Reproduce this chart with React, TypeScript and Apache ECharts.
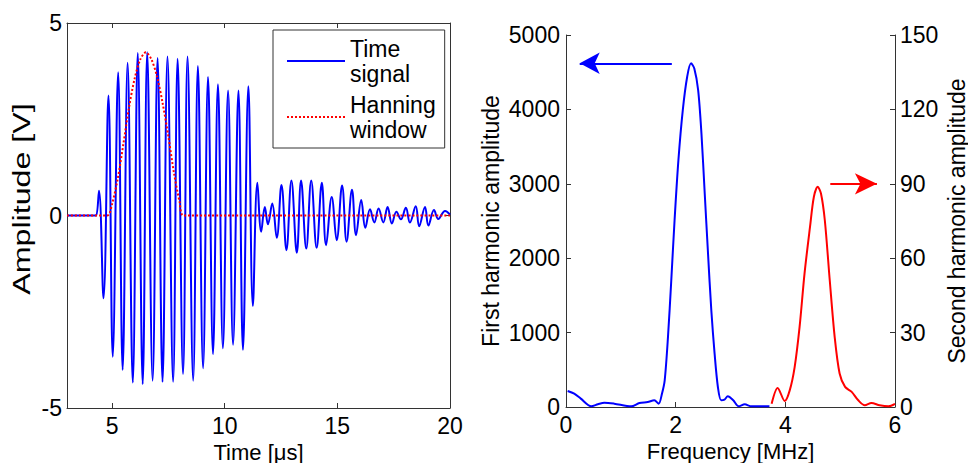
import { useEffect, useRef } from "react";
import * as echarts from "echarts";

const FONT = '"Liberation Sans", Arial, Helvetica, sans-serif';

// ---- left panel ----
const timeTicks = [5, 10, 15, 20];
const timeTopTicks = [5, 10, 15];
const timeMin = 3;
const timeMax = 20;
const ampMin = -5;
const ampMax = 5;
const ampStep = 5;
const ampLabel = "Amplitude [V]";

// [time µs, amplitude V] read at the extrema of the trace
const timeSignal: [number, number][] = [
  [3, 0], [4.25, 0], [4.3, 0], [4.42, 0.64], [4.62, -2.15], [4.84, 3.12], [5.03, -3.67],
  [5.27, 3.72], [5.47, -4.01], [5.69, 3.97], [5.92, -4.34], [6.14, 4.22], [6.36, -4.38],
  [6.56, 4.24], [6.8, -4.29], [7.02, 4.09], [7.24, -4.32], [7.46, 4.13], [7.71, -4.32],
  [7.91, 4.07], [8.15, -4.12], [8.35, 4.13], [8.6, -4.29], [8.81, 3.88], [9.04, -3.97],
  [9.26, 3.6], [9.48, -3.6], [9.7, 3.41], [9.92, -3.45], [10.15, 3.25], [10.37, -3.36],
  [10.61, 3.25], [10.81, -3.49], [11.05, 3.36], [11.25, -2.35], [11.45, 0.85], [11.62, -0.42],
  [11.78, 0.22], [11.92, -0.23], [12.11, 0.31], [12.31, -0.58], [12.52, 0.79], [12.74, -0.9],
  [12.96, 0.91], [13.2, -0.97], [13.39, 0.91], [13.62, -0.86], [13.84, 0.91], [14.08, -0.84],
  [14.31, 0.85], [14.5, -0.77], [14.75, 0.48], [14.97, -0.64], [15.21, 0.78], [15.41, -0.68],
  [15.65, 0.67], [15.83, -0.51], [16.06, 0.4], [16.24, -0.32], [16.45, 0.16], [16.64, -0.18],
  [16.83, 0.18], [17.04, -0.18], [17.23, 0.22], [17.42, -0.21], [17.62, 0.1], [17.82, -0.1],
  [18.04, 0.2], [18.22, -0.18], [18.48, 0.24], [18.63, -0.28], [18.89, 0.22], [19.04, -0.26],
  [19.29, 0.14], [19.48, -0.09], [19.78, 0.12], [20, 0.02],
];

const hanningWindow: [number, number][] = [
  [3, 0], [4.78, 0], [5.0, 0.3], [5.25, 0.95], [5.5, 1.85], [5.75, 2.8], [6.0, 3.55],
  [6.25, 4.05], [6.5, 4.24], [6.75, 4.05], [7.0, 3.6], [7.25, 2.9], [7.5, 2.05],
  [7.75, 1.1], [8.0, 0.35], [8.19, 0], [20, 0],
];

// ---- right panel ----
const freqMin = 0;
const freqMax = 6;
const freqStep = 2;
const firstMax = 5000;
const firstStep = 1000;
const secondMax = 150;
const secondStep = 30;

const firstHarmonic: [number, number][] = [
  [0.03, 215], [0.15, 180], [0.27, 112], [0.46, 9], [0.58, 36], [0.7, 58], [0.88, 45],
  [1.19, 9], [1.34, 54], [1.49, 67], [1.61, 90], [1.69, 45], [1.75, 179], [1.8, 359],
  [1.86, 942], [1.92, 1704], [1.98, 2511], [2.05, 3318], [2.13, 3991], [2.21, 4439],
  [2.28, 4619], [2.34, 4551], [2.41, 4260], [2.47, 3677], [2.53, 2870], [2.59, 2063],
  [2.65, 1300], [2.71, 717], [2.77, 269], [2.83, 90], [2.89, 99], [2.95, 143], [3.05, 90],
  [3.15, 9], [3.26, 36], [3.38, 9], [3.71, 9],
];

const secondHarmonic: [number, number][] = [
  [3.75, 1.3], [3.86, 7.7], [3.99, 2.4], [4.08, 6.7], [4.17, 16.1], [4.26, 32.3],
  [4.35, 53.8], [4.45, 72.6], [4.52, 84.7], [4.59, 88.8], [4.65, 86.1], [4.72, 75.3],
  [4.81, 51.1], [4.9, 28.2], [4.99, 13.5], [5.09, 8.1], [5.21, 6.1], [5.33, 2.7],
  [5.45, 0.7], [5.57, 1.6], [5.72, 0.7], [5.88, 0.3], [6.0, 1.3],
];

// annotation arrows: [from, tip] in data units
const firstArrow: [number, number][] = [[1.93, 4620], [0.25, 4620]];
const secondArrow: [number, number][] = [[4.82, 90], [5.67, 90]];

const AXIS_COLOR = "#333";
const axisLine = { show: true, onZero: false, lineStyle: { color: AXIS_COLOR, width: 1 } };
const tick = { show: true, inside: true, length: 5, lineStyle: { color: AXIS_COLOR, width: 1 } };
const plain = (v: number) => String(v);
const label = { color: "#000", fontSize: 23, fontFamily: FONT, formatter: plain };
const nameStyle = { color: "#000", fontSize: 23, fontFamily: FONT };
const bottomNameStyle = { color: "#000", fontSize: 22, lineHeight: 22, fontFamily: FONT };

export default function App() {
  const ref = useRef<HTMLDivElement>(null);

  useEffect(() => {
    if (!ref.current) return;
    const chart = echarts.init(ref.current, undefined, { renderer: "svg" });
    chart.setOption({
      animation: false,
      backgroundColor: "#fff",
      textStyle: { fontFamily: FONT },
      grid: [
        { left: 67, top: 23, width: 383, height: 385, outerBoundsMode: "none", containLabel: false },
        { left: 566, top: 35, width: 329, height: 372, outerBoundsMode: "none", containLabel: false },
      ],
      legend: {
        data: ["Time signal", "Hanning window"],
        orient: "vertical",
        left: 273,
        top: 30,
        padding: [6, 9, 6, 13],
        itemGap: 6,
        itemWidth: 58,
        itemHeight: 12,
        itemStyle: { opacity: 0 },
        borderColor: "#333",
        borderWidth: 1,
        borderRadius: 0,
        backgroundColor: "#fff",
        formatter: (n: string) => n.replace(" ", "\n"),
        textStyle: { color: "#000", fontSize: 23, lineHeight: 25, fontFamily: FONT },
      },
      graphic: [
        {
          type: "text",
          x: 22,
          y: 199,
          rotation: Math.PI / 2,
          scaleX: 1.4,
          style: {
            text: ampLabel,
            fontSize: 23,
            fontFamily: FONT,
            fill: "#000",
            textAlign: "center",
            textVerticalAlign: "middle",
            align: "center",
            verticalAlign: "middle",
          },
        },
      ],
      xAxis: [
        {
          type: "value", gridIndex: 0, min: timeMin, max: timeMax, position: "bottom",
          axisLine, axisTick: { ...tick, customValues: timeTicks },
          axisLabel: { ...label, margin: 6, customValues: timeTicks },
          splitLine: { show: false },
          name: "Time [μs]", nameLocation: "middle", nameGap: 27, nameTextStyle: bottomNameStyle,
        },
        {
          type: "value", gridIndex: 0, min: timeMin, max: timeMax, position: "top",
          axisLine, axisTick: { ...tick, customValues: timeTopTicks },
          axisLabel: { show: false }, splitLine: { show: false },
        },
        {
          type: "value", gridIndex: 1, min: freqMin, max: freqMax, interval: freqStep, position: "bottom",
          axisLine, axisTick: tick, axisLabel: { ...label, margin: 6 },
          splitLine: { show: false },
          name: "Frequency [MHz]", nameLocation: "middle", nameGap: 29, nameTextStyle: bottomNameStyle,
        },
      ],
      yAxis: [
        {
          type: "value", gridIndex: 0, min: ampMin, max: ampMax, interval: ampStep, position: "left",
          axisLine, axisTick: tick, axisLabel: { ...label, margin: 5 }, splitLine: { show: false },
        },
        {
          type: "value", gridIndex: 0, min: ampMin, max: ampMax, interval: ampStep, position: "right",
          axisLine, axisTick: tick, axisLabel: { show: false }, splitLine: { show: false },
        },
        {
          type: "value", gridIndex: 1, min: 0, max: firstMax, interval: firstStep, position: "left",
          axisLine, axisTick: tick, axisLabel: { ...label, margin: 6 }, splitLine: { show: false },
          name: "First harmonic amplitude", nameLocation: "middle", nameGap: 64, nameRotate: 90,
          nameTextStyle: nameStyle,
        },
        {
          type: "value", gridIndex: 1, min: 0, max: secondMax, interval: secondStep, position: "right",
          axisLine, axisTick: tick, axisLabel: { ...label, margin: 5 }, splitLine: { show: false },
          name: "Second harmonic amplitude", nameLocation: "middle", nameGap: 50, nameRotate: 90,
          nameTextStyle: nameStyle,
        },
      ],
      series: [
        {
          type: "line", name: "Time signal", xAxisIndex: 0, yAxisIndex: 0,
          data: timeSignal, smooth: 0.4, symbol: "none",
          lineStyle: { color: "#0000ff", width: 2 }, itemStyle: { color: "#0000ff" },
        },
        {
          type: "line", name: "Hanning window", xAxisIndex: 0, yAxisIndex: 0,
          data: hanningWindow, smooth: 0.3, symbol: "none",
          lineStyle: { color: "#ff0000", width: 2, type: "dotted" }, itemStyle: { color: "#ff0000" },
        },
        {
          type: "line", name: "First harmonic", xAxisIndex: 2, yAxisIndex: 2,
          data: firstHarmonic, smooth: 0.3, symbol: "none",
          lineStyle: { color: "#0000ff", width: 2 }, itemStyle: { color: "#0000ff" },
          markLine: {
            silent: true, symbol: ["none", "arrow"], symbolSize: [16, 20],
            label: { show: false }, emphasis: { disabled: true },
            lineStyle: { color: "#0000ff", width: 2, type: "solid" },
            data: [[{ coord: firstArrow[0] }, { coord: firstArrow[1] }]],
          },
        },
        {
          type: "line", name: "Second harmonic", xAxisIndex: 2, yAxisIndex: 3,
          data: secondHarmonic, smooth: 0.3, symbol: "none",
          lineStyle: { color: "#ff0000", width: 2 }, itemStyle: { color: "#ff0000" },
          markLine: {
            silent: true, symbol: ["none", "arrow"], symbolSize: [16, 22],
            label: { show: false }, emphasis: { disabled: true },
            lineStyle: { color: "#ff0000", width: 2, type: "solid" },
            data: [[{ coord: secondArrow[0] }, { coord: secondArrow[1] }]],
          },
        },
      ],
    });
    return () => chart.dispose();
  }, []);

  return (
    <div
      ref={ref}
      style={{ position: "fixed", left: 0, top: 0, width: 968, height: 463, background: "#fff" }}
    />
  );
}
